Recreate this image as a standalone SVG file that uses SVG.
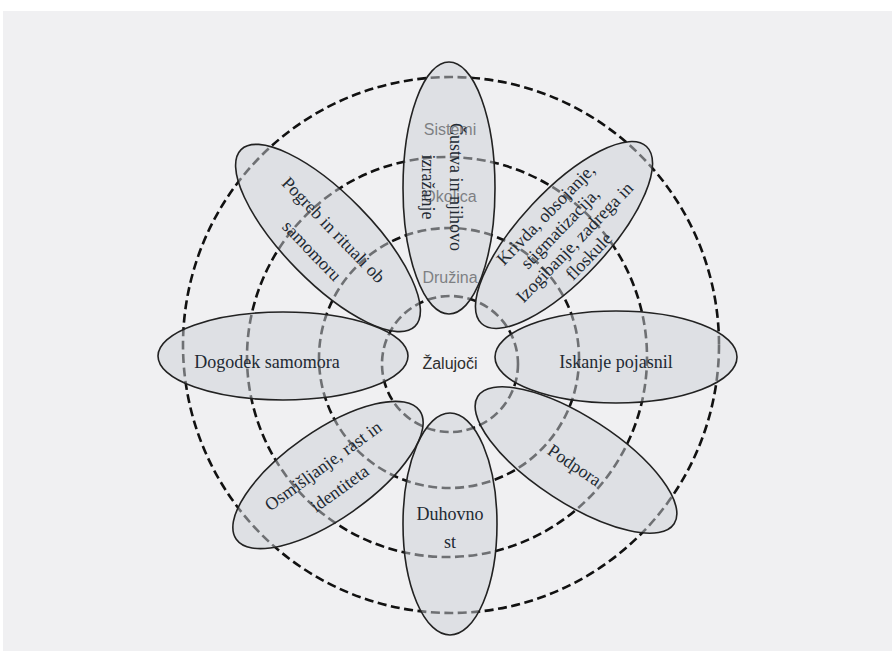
<svg xmlns="http://www.w3.org/2000/svg" width="892" height="655" viewBox="0 0 892 655">
<style>
.ring{fill:none;stroke:#111;stroke-width:2.6;stroke-dasharray:9 4.5}
.petal{fill:#cbd0d6;fill-opacity:0.5;stroke:#222;stroke-width:1.6}
.lbl{font-family:"Liberation Serif","Times New Roman",serif;font-size:18px;fill:#222a33;text-anchor:middle}
.sys{font-family:"Liberation Sans",Arial,sans-serif;font-size:16px;fill:#2e2e2e;text-anchor:middle}
</style>
<rect x="0" y="0" width="892" height="655" fill="#ffffff"/>
<rect x="3" y="11" width="889" height="640" fill="#f0f0f2"/>
<g id="rings">
<circle class="ring" cx="451" cy="345" r="268"/>
<circle class="ring" cx="447" cy="357" r="200"/>
<circle class="ring" cx="449" cy="358" r="130"/>
<circle class="ring" cx="450" cy="364" r="68"/>
<text class="sys" x="450" y="135">Sistemi</text>
<text class="sys" x="450" y="202">Okolica</text>
<text class="sys" x="450" y="283">Družina</text>
<text class="sys" x="450" y="369">Žalujoči</text>
</g>
<g id="connectors"></g>
<g id="n-pogreb">
<ellipse class="petal" cx="0" cy="0" rx="124" ry="44" transform="translate(328,238) rotate(45.5)"/>
</g>
<g id="n-krivda">
<ellipse class="petal" cx="0" cy="0" rx="121" ry="44" transform="translate(564,235) rotate(-47)"/>
</g>
<g id="n-osmisljanje">
<ellipse class="petal" cx="0" cy="0" rx="112" ry="44" transform="translate(328,475) rotate(-35)"/>
</g>
<g id="n-podpora">
<ellipse class="petal" cx="0" cy="0" rx="117" ry="43" transform="translate(576,460) rotate(33)"/>
</g>
<g id="n-sistemi">
<ellipse class="petal" cx="449" cy="188" rx="46" ry="126"/>
</g>
<g id="n-duhovnost">
<ellipse class="petal" cx="450" cy="524" rx="47" ry="111"/>
</g>
<g id="n-dogodek">
<ellipse class="petal" cx="283" cy="356" rx="125" ry="44"/>
</g>
<g id="n-iskanje">
<ellipse class="petal" cx="616" cy="357" rx="121" ry="46"/>
</g>
<g id="labels">
<g transform="translate(441,187) rotate(90)">
<text class="lbl" x="0" y="-9">Čustva in njihovo</text>
<text class="lbl" x="0" y="19">izražanje</text>
</g>
<g transform="translate(322,241) rotate(46)">
<text class="lbl" x="0" y="-10">Pogreb in rituali ob</text>
<text class="lbl" x="0" y="20">samomoru</text>
</g>
<g transform="translate(568,236) rotate(-46)">
<text class="lbl" x="0" y="-25">Krivda, obsojanje,</text>
<text class="lbl" x="0" y="-5">stigmatizacija,</text>
<text class="lbl" x="0" y="15">Izogibanje, zadrega in</text>
<text class="lbl" x="0" y="35">floskule</text>
</g>
<g transform="translate(332,478) rotate(-36)">
<text class="lbl" x="0" y="-9">Osmišljanje, rast in</text>
<text class="lbl" x="0" y="19">identiteta</text>
</g>
<g transform="translate(574,466) rotate(34)">
<text class="lbl" x="0" y="5">Podpora</text>
</g>
<text class="lbl" x="450" y="520">Duhovno</text>
<text class="lbl" x="450" y="548">st</text>
<text class="lbl" x="267" y="368">Dogodek samomora</text>
<text class="lbl" x="616" y="368">Iskanje pojasnil</text>
</g>
</svg>
